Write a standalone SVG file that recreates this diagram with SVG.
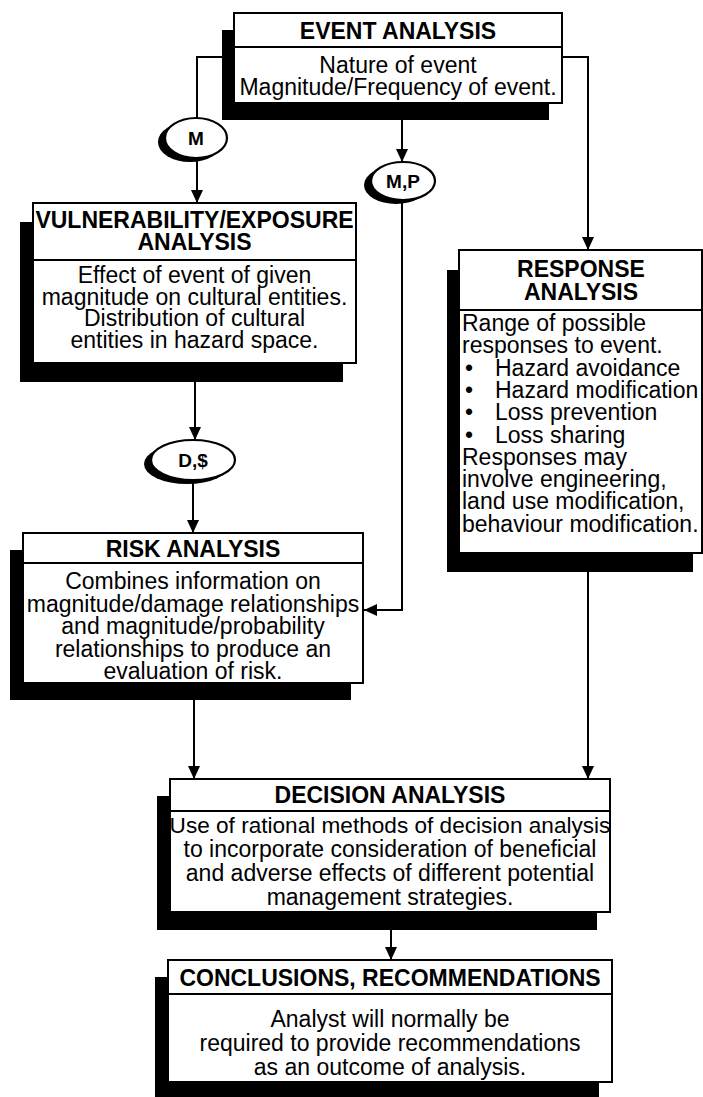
<svg xmlns="http://www.w3.org/2000/svg" width="703" height="1097" viewBox="0 0 703 1097">
<defs>
<marker id="arr" markerUnits="userSpaceOnUse" markerWidth="14" markerHeight="12" refX="13" refY="6" orient="auto">
<path d="M0,0 L13,6 L0,12 z" fill="#000"/>
</marker>
<style>
.shadow{fill:#000}
.box{fill:#fff;stroke:#000;stroke-width:2}
.div{stroke:#000;stroke-width:2}
.hd{font-family:"Liberation Sans",Arial,sans-serif;font-weight:bold;font-size:23px;text-anchor:middle;fill:#000}
.bd{font-family:"Liberation Sans",Arial,sans-serif;font-size:23px;text-anchor:middle;fill:#000}
.bl{font-family:"Liberation Sans",Arial,sans-serif;font-size:23px;fill:#000}
.el{font-family:"Liberation Sans",Arial,sans-serif;font-weight:bold;font-size:19px;text-anchor:middle;fill:#000}
.con{fill:none;stroke:#000;stroke-width:2}
.ew{fill:#fff;stroke:#000;stroke-width:2.2}
</style>
</defs>
<rect width="703" height="1097" fill="#fff"/>

<g id="connectors">
<path class="con" d="M234,57 H197 V118"/>
<path class="con" d="M197,158 V203" marker-end="url(#arr)"/>
<path class="con" d="M402,103 V162" marker-end="url(#arr)"/>
<path class="con" d="M402,200 V610 H364" marker-end="url(#arr)"/>
<path class="con" d="M562,57 H588 V250" marker-end="url(#arr)"/>
<path class="con" d="M195,363 V440" marker-end="url(#arr)"/>
<path class="con" d="M193,480 V533" marker-end="url(#arr)"/>
<path class="con" d="M194,683 V779" marker-end="url(#arr)"/>
<path class="con" d="M588,553 V779" marker-end="url(#arr)"/>
<path class="con" d="M391,912 V960" marker-end="url(#arr)"/>
</g>

<g id="event">
<rect class="shadow" x="222" y="30" width="327" height="90"/>
<rect class="box" x="234" y="13" width="328" height="90"/>
<line class="div" x1="234" y1="47" x2="562" y2="47"/>
<text class="hd" x="398" y="39">EVENT ANALYSIS</text>
<text class="bd" x="398" y="73">Nature of event</text>
<text class="bd" x="398" y="95">Magnitude/Frequency of event.</text>
</g>

<g id="m">
<ellipse class="shadow" cx="190" cy="142" rx="32" ry="20"/>
<ellipse class="ew" cx="196" cy="138" rx="31" ry="20"/>
<text class="el" x="196" y="145">M</text>
</g>

<g id="mp">
<ellipse class="shadow" cx="396" cy="185" rx="32" ry="19"/>
<ellipse class="ew" cx="403" cy="181" rx="32" ry="19"/>
<text class="el" x="403" y="188">M,P</text>
</g>

<g id="vulnerability">
<rect class="shadow" x="20" y="222" width="323" height="160"/>
<rect class="box" x="33" y="203" width="323" height="160"/>
<line class="div" x1="33" y1="260" x2="356" y2="260"/>
<text class="hd" x="194.5" y="228">VULNERABILITY/EXPOSURE</text>
<text class="hd" x="194.5" y="250">ANALYSIS</text>
<text class="bd" x="194.5" y="283">Effect of event of given</text>
<text class="bd" x="194.5" y="304.5">magnitude on cultural entities.</text>
<text class="bd" x="194.5" y="326">Distribution of cultural</text>
<text class="bd" x="194.5" y="347.5">entities in hazard space.</text>
</g>

<g id="response">
<rect class="shadow" x="447" y="270" width="246" height="302"/>
<rect class="box" x="459" y="250" width="243" height="303"/>
<line class="div" x1="459" y1="310" x2="702" y2="310"/>
<text class="hd" x="581" y="277">RESPONSE</text>
<text class="hd" x="581" y="300">ANALYSIS</text>
<text class="bl" x="462" y="331">Range of possible</text>
<text class="bl" x="462" y="353">responses to event.</text>
<text class="bl" x="465" y="376">•</text>
<text class="bl" x="495" y="376">Hazard avoidance</text>
<text class="bl" x="465" y="398">•</text>
<text class="bl" x="495" y="398">Hazard modification</text>
<text class="bl" x="465" y="420">•</text>
<text class="bl" x="495" y="420">Loss prevention</text>
<text class="bl" x="465" y="443">•</text>
<text class="bl" x="495" y="443">Loss sharing</text>
<text class="bl" x="462" y="465">Responses may</text>
<text class="bl" x="462" y="487">involve engineering,</text>
<text class="bl" x="462" y="509">land use modification,</text>
<text class="bl" x="462" y="532">behaviour modification.</text>
</g>

<g id="ds">
<ellipse class="shadow" cx="187" cy="464" rx="43" ry="20"/>
<ellipse class="ew" cx="193" cy="460" rx="42" ry="20"/>
<text class="el" x="193" y="467">D,$</text>
</g>

<g id="risk">
<rect class="shadow" x="10" y="550" width="341" height="150"/>
<rect class="box" x="23" y="533" width="340" height="150"/>
<line class="div" x1="23" y1="563" x2="363" y2="563"/>
<text class="hd" x="193" y="557">RISK ANALYSIS</text>
<text class="bd" x="193" y="589">Combines information on</text>
<text class="bd" x="193" y="611.5">magnitude/damage relationships</text>
<text class="bd" x="193" y="634">and magnitude/probability</text>
<text class="bd" x="193" y="656.5">relationships to produce an</text>
<text class="bd" x="193" y="679">evaluation of risk.</text>
</g>

<g id="decision">
<rect class="shadow" x="157" y="796" width="440" height="134"/>
<rect class="box" x="170" y="779" width="440" height="133"/>
<line class="div" x1="170" y1="811" x2="610" y2="811"/>
<text class="hd" x="390" y="803">DECISION ANALYSIS</text>
<text class="bd" x="390" y="833" style="font-size:22.6px">Use of rational methods of decision analysis</text>
<text class="bd" x="390" y="857">to incorporate consideration of beneficial</text>
<text class="bd" x="390" y="881">and adverse effects of different potential</text>
<text class="bd" x="390" y="905">management strategies.</text>
</g>

<g id="conclusions">
<rect class="shadow" x="155" y="977" width="444" height="125"/>
<rect class="box" x="168" y="960" width="444" height="122"/>
<line class="div" x1="168" y1="994" x2="612" y2="994"/>
<text class="hd" x="390" y="986">CONCLUSIONS, RECOMMENDATIONS</text>
<text class="bd" x="390" y="1027">Analyst will normally be</text>
<text class="bd" x="390" y="1051">required to provide recommendations</text>
<text class="bd" x="390" y="1075">as an outcome of analysis.</text>
</g>
</svg>
